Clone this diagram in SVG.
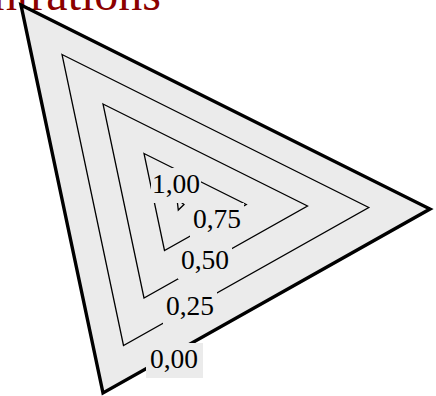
<svg xmlns="http://www.w3.org/2000/svg" width="436" height="396" viewBox="0 0 436 396">
<style>
.outer{fill:#ebebeb;stroke:#000;stroke-width:3.4;stroke-linejoin:miter}
.lvl{fill:none;stroke:#000;stroke-width:1.3}
.box{fill:#ebebeb;stroke:none}
.lab{font-family:"Liberation Serif","DejaVu Serif",serif;font-size:27.5px;fill:#000;text-anchor:middle}
.title{font-family:"Liberation Serif","DejaVu Serif",serif;font-size:48px;fill:#8b0000;text-anchor:end}
</style>
<text class="title" x="161" y="10">Concentrations</text>
<g id="contours">
<polygon id="level-000" class="outer" points="21,5 430,209 103,393"/>
<polygon id="level-025" class="lvl" points="62,54.5 368.75,207.5 123.5,345.5"/>
<polygon id="level-050" class="lvl" points="103,104 307.5,206 144,298"/>
<polygon id="level-075" class="lvl" points="144,153.5 246.25,204.5 164.5,250.5"/>
<polygon id="level-100" class="lvl" points="177,199 184,204.5 178.3,210"/>
</g>
<g id="labels">
<g id="label-100"><rect class="box" x="151" y="168" width="50" height="35"/><text class="lab" x="176" y="193">1,00</text></g>
<g id="label-075"><rect class="box" x="190" y="203" width="54" height="35"/><text class="lab" x="217" y="228">0,75</text></g>
<g id="label-050"><rect class="box" x="178" y="244" width="54" height="35"/><text class="lab" x="205" y="269">0,50</text></g>
<g id="label-025"><rect class="box" x="163" y="290" width="54" height="35"/><text class="lab" x="190" y="315">0,25</text></g>
<g id="label-000"><rect class="box" x="146" y="343" width="57" height="35"/><text class="lab" x="174" y="368">0,00</text></g>
</g>
</svg>
